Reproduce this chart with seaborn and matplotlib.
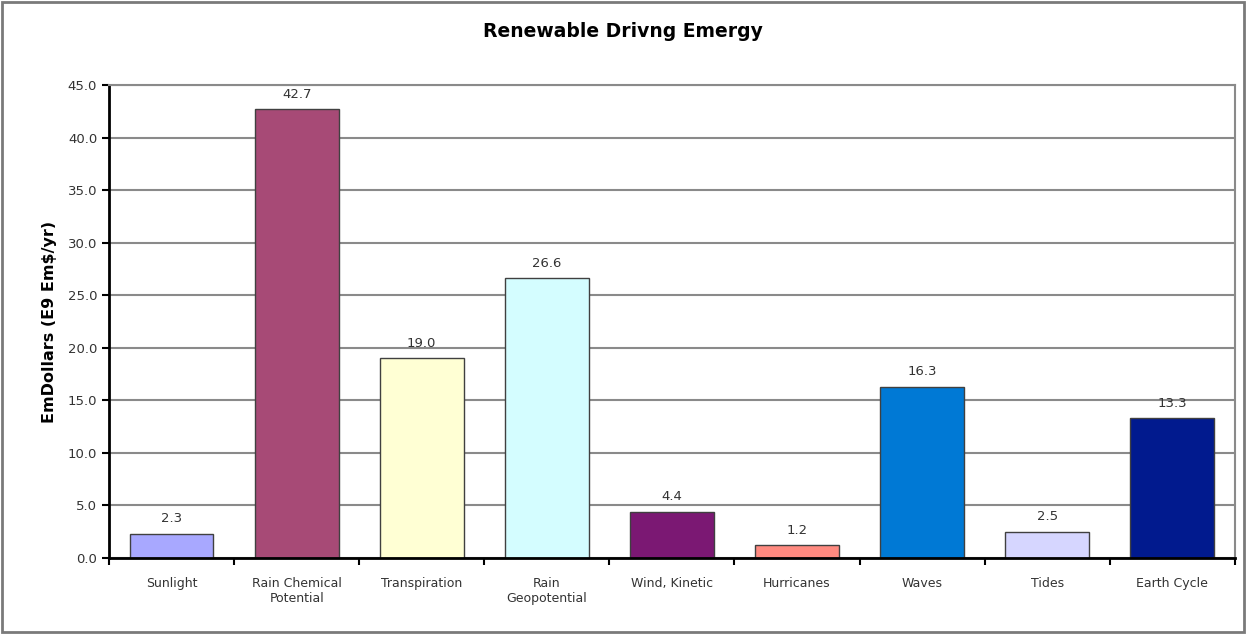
import matplotlib
matplotlib.use("Agg")
import matplotlib.pyplot as plt
import seaborn as sns
import pandas as pd
import numpy as np

categories = ["Sunlight", "Rain Chemical\nPotential", "Transpiration", "Rain\nGeopotential",
              "Wind, Kinetic", "Hurricanes", "Waves", "Tides", "Earth Cycle"]
values = [2.3, 42.7, 19.0, 26.6, 4.4, 1.2, 16.3, 2.5, 13.3]
colors = ["#a8a8ff", "#a74a76", "#ffffd4", "#d4fdff", "#7b1873",
          "#ff8a80", "#0079d5", "#d6d6ff", "#011a8e"]
y_ticks = [0, 5, 10, 15, 20, 25, 30, 35, 40, 45]

sns.set_theme(style="white")
plt.rcParams["font.family"] = ["DejaVu Sans"]

df = pd.DataFrame({"source": categories, "value": values})

fig = plt.figure(figsize=(12.46, 6.34), dpi=100)
ax = fig.add_axes([0.0875, 0.1199, 0.9035, 0.7461])

sns.barplot(data=df, x="source", y="value", hue="source", palette=colors,
            legend=False, width=0.67, edgecolor="#404040", linewidth=1.0,
            saturation=1, ax=ax)

ax.set_ylim(0, 45)
ax.set_xlim(-0.5, len(categories) - 0.5)
ax.set_yticks(y_ticks)
ax.set_yticklabels([f"{t:.1f}" for t in y_ticks], fontsize=9.5, color="#333333")
ax.set_xticks(range(len(categories)))
ax.set_xticklabels(categories, fontsize=9, color="#333333")
ax.set_xticks(np.arange(-0.5, len(categories), 1.0), minor=True)
ax.tick_params(axis="x", which="major", bottom=False, length=0, pad=14)
ax.tick_params(axis="x", which="minor", bottom=True, length=5, width=1.5,
               color="black", direction="out")
ax.tick_params(axis="y", which="major", left=True, length=5, width=1.5,
               color="black", direction="out")

ax.yaxis.grid(True, color="#8a8a8a", linewidth=1.5)
ax.set_axisbelow(True)
for side in ["left", "bottom"]:
    ax.spines[side].set_color("black")
    ax.spines[side].set_linewidth(2)
for side in ["top", "right"]:
    ax.spines[side].set_color("#8a8a8a")
    ax.spines[side].set_linewidth(1.5)

for i, v in enumerate(values):
    ax.text(i, v + 0.8, f"{v:.1f}", ha="center", va="bottom", fontsize=9.5, color="#333333")

ax.set_xlabel("")
ax.set_ylabel("EmDollars (E9 Em$/yr)", fontsize=11.5, fontweight="bold", labelpad=8,
              color="black")
fig.suptitle("Renewable Drivng Emergy", y=0.95, fontsize=13.5, fontweight="bold",
             va="center", color="black")

fig.patches.append(plt.Rectangle((0.002, 0.003), 0.996, 0.994, transform=fig.transFigure,
                                 fill=False, edgecolor="#7a7a7a", linewidth=2))

fig.savefig("out.png", dpi=100)
